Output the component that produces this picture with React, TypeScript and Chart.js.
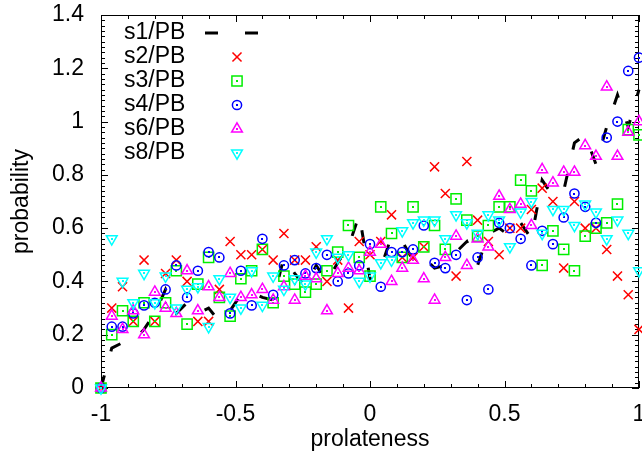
import React, { useEffect, useRef } from 'react';
import { Chart, registerables } from 'chart.js';

Chart.register(...registerables);

// ---------------- data ----------------
const prolateness = [
  -1, -0.96, -0.92, -0.88, -0.84, -0.8, -0.76, -0.72, -0.68, -0.64, -0.6, -0.56, -0.52,
  -0.48, -0.44, -0.4, -0.36, -0.32, -0.28, -0.24, -0.2, -0.16, -0.12, -0.08, -0.04, 0,
  0.04, 0.08, 0.12, 0.16, 0.2, 0.24, 0.28, 0.32, 0.36, 0.4, 0.44, 0.48, 0.52, 0.56, 0.6,
  0.64, 0.68, 0.72, 0.76, 0.8, 0.84, 0.88, 0.92, 0.96, 1,
];

const s1PB = [
  0, 0.15, 0.17, 0.175, 0.22, 0.28, 0.37, 0.28, 0.32, 0.28, 0.3, 0.25, 0.29,
  0.35, 0.36, 0.34, 0.33, 0.49, 0.43, 0.38, 0.46, 0.4, 0.47, 0.53, 0.65,
  0.41, 0.45, 0.57, 0.55, 0.48, 0.49, 0.45, 0.46, 0.51, 0.55, 0.46, 0.58, 0.6,
  0.57, 0.62, 0.56, 0.78, 0.72, 0.74, 0.92, 0.95, 0.84, 0.98, 1.1, 0.98, 1.12,
];

const s2PB = [
  0, 0.3, 0.38, 0.25, 0.48, 0.25, 0.43, 0.48, 0.4, 0.25, 0.25, 0.37, 0.55,
  0.5, 0.5, 0.52, 0.48, 0.58, 0.48, 0.48, 0.53, 0.4, 0.48, 0.3, 0.55,
  0.5, 0.55, 0.65, 0.49, 0.49, 0.53, 0.83, 0.73, 0.42, 0.85, 0.63, 0.55, 0.5,
  0.6, 0.6, 0.67, 0.75, 0.7, 0.45, 0.7, 0.6, 0.6, 0.52, 0.42, 0.35, 0.22,
];

const s3PB = [
  0, 0.2, 0.29, 0.25, 0.32, 0.25, 0.32, 0.44, 0.24, 0.39, 0.49, 0.34, 0.27,
  0.41, 0.44, 0.52, 0.32, 0.42, 0.39, 0.36, 0.39, 0.44, 0.51, 0.61, 0.49,
  0.42, 0.68, 0.58, 0.49, 0.68, 0.53, 0.61, 0.52, 0.71, 0.63, 0.57, 0.61, 0.68,
  0.68, 0.78, 0.74, 0.46, 0.59, 0.52, 0.44, 0.57, 0.6, 0.62, 0.69, 0.97, 0.95,
];

const s4PB = [
  0, 0.23, 0.23, 0.28, 0.31, 0.32, 0.37, 0.46, 0.34, 0.44, 0.51, 0.49, 0.28,
  0.44, 0.31, 0.56, 0.35, 0.46, 0.48, 0.43, 0.45, 0.5, 0.4, 0.43, 0.46,
  0.54, 0.38, 0.51, 0.51, 0.52, 0.61, 0.47, 0.45, 0.5, 0.33, 0.49, 0.37, 0.62,
  0.6, 0.56, 0.46, 0.59, 0.54, 0.64, 0.73, 0.68, 0.62, 0.94, 1.0, 1.19, 1.24,
];

const s6PB = [
  0, 0.27, 0.22, 0.29, 0.2, 0.36, 0.3, 0.28, 0.44, 0.29, 0.38, 0.34, 0.43,
  0.34, 0.35, 0.37, 0.33, 0.38, 0.33, 0.42, 0.41, 0.29, 0.43, 0.45, 0.44,
  0.51, 0.54, 0.4, 0.45, 0.48, 0.41, 0.33, 0.49, 0.57, 0.46, 0.56, 0.53, 0.72,
  0.67, 0.69, 0.61, 0.82, 0.77, 0.81, 0.81, 0.91, 0.87, 1.13, 0.87, 0.96, 1.0,
];

const s8PB = [
  0, 0.56, 0.4, 0.32, 0.43, 0.32, 0.42, 0.3, 0.37, 0.38, 0.23, 0.41, 0.34,
  0.3, 0.44, 0.31, 0.42, 0.37, 0.41, 0.39, 0.51, 0.56, 0.49, 0.5, 0.4,
  0.42, 0.47, 0.48, 0.59, 0.62, 0.63, 0.63, 0.56, 0.65, 0.62, 0.58, 0.65, 0.63,
  0.53, 0.66, 0.7, 0.58, 0.67, 0.67, 0.61, 0.69, 0.66, 0.56, 0.63, 0.58, 0.44,
];

const seriesLabels = ['s1/PB', 's2/PB', 's3/PB', 's4/PB', 's6/PB', 's8/PB'];
const xAxisTitle = 'prolateness';
const yAxisTitle = 'probability';

// ---------------- styling ----------------
const FONT = "'Liberation Sans', Arial, Helvetica, sans-serif";
const FONT_SIZE = 23;

type Marker = { style: string; radius: number; rotation: number; color: string; dot: boolean };

const markers: Marker[] = [
  { style: 'crossRot', radius: 6.4, rotation: 0, color: '#ff0000', dot: false },
  { style: 'rect', radius: 7.2, rotation: 0, color: '#00ee00', dot: true },
  { style: 'circle', radius: 4.6, rotation: 0, color: '#0000ff', dot: true },
  { style: 'triangle', radius: 6.2, rotation: 0, color: '#ff00ff', dot: true },
  { style: 'triangle', radius: 6.2, rotation: 180, color: '#00ffff', dot: true },
];

const fmt = (v: number) => String(Math.round(v * 100) / 100);
const toPoints = (ys: number[]) => prolateness.map((x, i) => ({ x, y: ys[i] }));

function drawMarker(ctx: CanvasRenderingContext2D, m: Marker, x: number, y: number) {
  ctx.save();
  ctx.strokeStyle = m.color;
  ctx.lineWidth = 1.5;
  ctx.setLineDash([]);
  ctx.beginPath();
  const r = m.radius;
  if (m.style === 'crossRot') {
    const d = r * Math.SQRT1_2;
    ctx.moveTo(x - d, y - d);
    ctx.lineTo(x + d, y + d);
    ctx.moveTo(x - d, y + d);
    ctx.lineTo(x + d, y - d);
  } else if (m.style === 'rect') {
    const s = r * Math.SQRT1_2;
    ctx.rect(x - s, y - s, 2 * s, 2 * s);
  } else if (m.style === 'circle') {
    ctx.arc(x, y, r, 0, Math.PI * 2);
  } else {
    let a = (m.rotation * Math.PI) / 180;
    ctx.moveTo(x + Math.sin(a) * r, y - Math.cos(a) * r);
    a += (2 * Math.PI) / 3;
    ctx.lineTo(x + Math.sin(a) * r, y - Math.cos(a) * r);
    a += (2 * Math.PI) / 3;
    ctx.lineTo(x + Math.sin(a) * r, y - Math.cos(a) * r);
    ctx.closePath();
  }
  ctx.stroke();
  if (m.dot) {
    ctx.fillStyle = m.color;
    ctx.fillRect(Math.round(x) - 1, Math.round(y) - 1, 2, 2);
  }
  ctx.restore();
}

// frame with inward ticks (gnuplot style)
const framePlugin = {
  id: 'frame',
  beforeDatasetsDraw(chart: any) {
    const { ctx, chartArea: a, scales } = chart;
    const xs = scales.x;
    const ys = scales.y;
    ctx.save();
    ctx.strokeStyle = '#000';
    ctx.lineWidth = 1;
    ctx.strokeRect(a.left + 0.5, a.top + 0.5, a.right - a.left - 1, a.bottom - a.top - 1);
    ctx.beginPath();
    for (let i = 0; i <= 20; i++) {
      const v = -1 + i * 0.1;
      const major = i % 5 === 0;
      const len = major ? 7 : 4;
      const px = Math.round(xs.getPixelForValue(v)) + 0.5;
      ctx.moveTo(px, a.bottom);
      ctx.lineTo(px, a.bottom - len);
      ctx.moveTo(px, a.top);
      ctx.lineTo(px, a.top + len);
    }
    for (let i = 0; i <= 70; i++) {
      const v = i * 0.02;
      const major = i % 10 === 0;
      const len = major ? 7 : 4;
      const py = Math.round(ys.getPixelForValue(v)) + 0.5;
      ctx.moveTo(a.left, py);
      ctx.lineTo(a.left + len, py);
      ctx.moveTo(a.right, py);
      ctx.lineTo(a.right - len, py);
    }
    ctx.stroke();
    ctx.restore();
  },
};

// centre dots of gnuplot point types
const dotPlugin = {
  id: 'centerDots',
  afterDatasetDraw(chart: any, args: any) {
    const ds = chart.data.datasets[args.index];
    if (!ds.centerDot) return;
    const ctx = chart.ctx;
    ctx.save();
    ctx.fillStyle = ds.pointBorderColor;
    for (const el of args.meta.data) {
      ctx.fillRect(Math.round(el.x) - 1, Math.round(el.y) - 1, 2, 2);
    }
    ctx.restore();
  },
};

const legendPlugin = {
  id: 'gnuKey',
  afterDraw(chart: any) {
    const ctx = chart.ctx;
    const rows = [33, 57, 81, 105, 129, 153];
    ctx.save();
    ctx.font = `${FONT_SIZE}px ${FONT}`;
    ctx.fillStyle = '#000';
    ctx.textAlign = 'left';
    ctx.textBaseline = 'middle';
    seriesLabels.forEach((lab, i) => {
      ctx.fillText(lab, 124, rows[i]);
    });
    // s1 sample: dashed line
    ctx.strokeStyle = '#000';
    ctx.lineWidth = 3;
    ctx.setLineDash([13, 27]);
    ctx.beginPath();
    ctx.moveTo(205, rows[0]);
    ctx.lineTo(258, rows[0]);
    ctx.stroke();
    ctx.setLineDash([]);
    markers.forEach((m, i) => drawMarker(ctx, m, 237, rows[i + 1]));
    ctx.restore();
  },
};

export default function App() {
  const ref = useRef<HTMLCanvasElement | null>(null);

  useEffect(() => {
    if (!ref.current) return;
    const seriesData = [s2PB, s3PB, s4PB, s6PB, s8PB];
    const datasets: any[] = [
      {
        label: seriesLabels[0],
        data: toPoints(s1PB),
        showLine: true,
        borderColor: '#000000',
        borderWidth: 3,
        borderDash: [13, 25],
        borderCapStyle: 'butt',
        pointRadius: 0,
        tension: 0,
        fill: false,
        order: 5,
        clip: false,
      },
      ...seriesData.map((d, i) => ({
        label: seriesLabels[i + 1],
        data: toPoints(d),
        showLine: false,
        pointStyle: markers[i].style,
        pointRotation: markers[i].rotation,
        pointRadius: markers[i].radius,
        pointHoverRadius: markers[i].radius,
        pointBorderWidth: 1.5,
        pointBorderColor: markers[i].color,
        pointBackgroundColor: 'rgba(0,0,0,0)',
        borderColor: markers[i].color,
        backgroundColor: 'rgba(0,0,0,0)',
        centerDot: markers[i].dot,
        order: 4 - i,
        clip: false,
      })),
    ];

    const tickFont = { family: FONT, size: FONT_SIZE };
    const chart = new Chart(ref.current, {
      type: 'scatter',
      data: { datasets },
      options: {
        animation: false,
        responsive: false,
        devicePixelRatio: 1,
        events: [],
        layout: { padding: { left: 0, right: 3, top: 15, bottom: 0 }, autoPadding: false },
        plugins: { legend: { display: false }, tooltip: { enabled: false } },
        scales: {
          x: {
            type: 'linear',
            min: -1,
            max: 1,
            grid: { display: false, drawTicks: false },
            border: { display: false },
            ticks: {
              stepSize: 0.5,
              color: '#000',
              font: tickFont,
              padding: 13,
              maxRotation: 0,
              autoSkip: false,
              callback: (v: any) => fmt(Number(v)),
            },
            title: {
              display: true,
              text: xAxisTitle,
              color: '#000',
              font: tickFont,
              padding: { top: 0, bottom: 0 },
            },
            afterFit: (s: any) => {
              s.height = 65;
              s.paddingLeft = 0;
              s.paddingRight = 0;
              s.paddingTop = 0;
              s.paddingBottom = 0;
            },
          },
          y: {
            type: 'linear',
            min: 0,
            max: 1.4,
            grid: { display: false, drawTicks: false },
            border: { display: false },
            ticks: {
              stepSize: 0.2,
              color: '#000',
              font: tickFont,
              padding: 17,
              autoSkip: false,
              callback: (v: any) => fmt(Number(v)),
            },
            title: {
              display: true,
              text: yAxisTitle,
              color: '#000',
              font: tickFont,
              padding: { top: 8, bottom: 0 },
            },
            afterFit: (s: any) => {
              s.width = 101;
              s.paddingLeft = 0;
              s.paddingRight = 0;
              s.paddingTop = 0;
              s.paddingBottom = 0;
            },
          },
        },
      } as any,
      plugins: [framePlugin, dotPlugin, legendPlugin],
    });
    return () => chart.destroy();
  }, []);

  return (
    <div style={{ position: 'absolute', left: 0, top: 0, width: 642, height: 453, background: '#fff' }}>
      <canvas ref={ref} width={642} height={453} style={{ display: 'block', width: 642, height: 453 }} />
    </div>
  );
}
